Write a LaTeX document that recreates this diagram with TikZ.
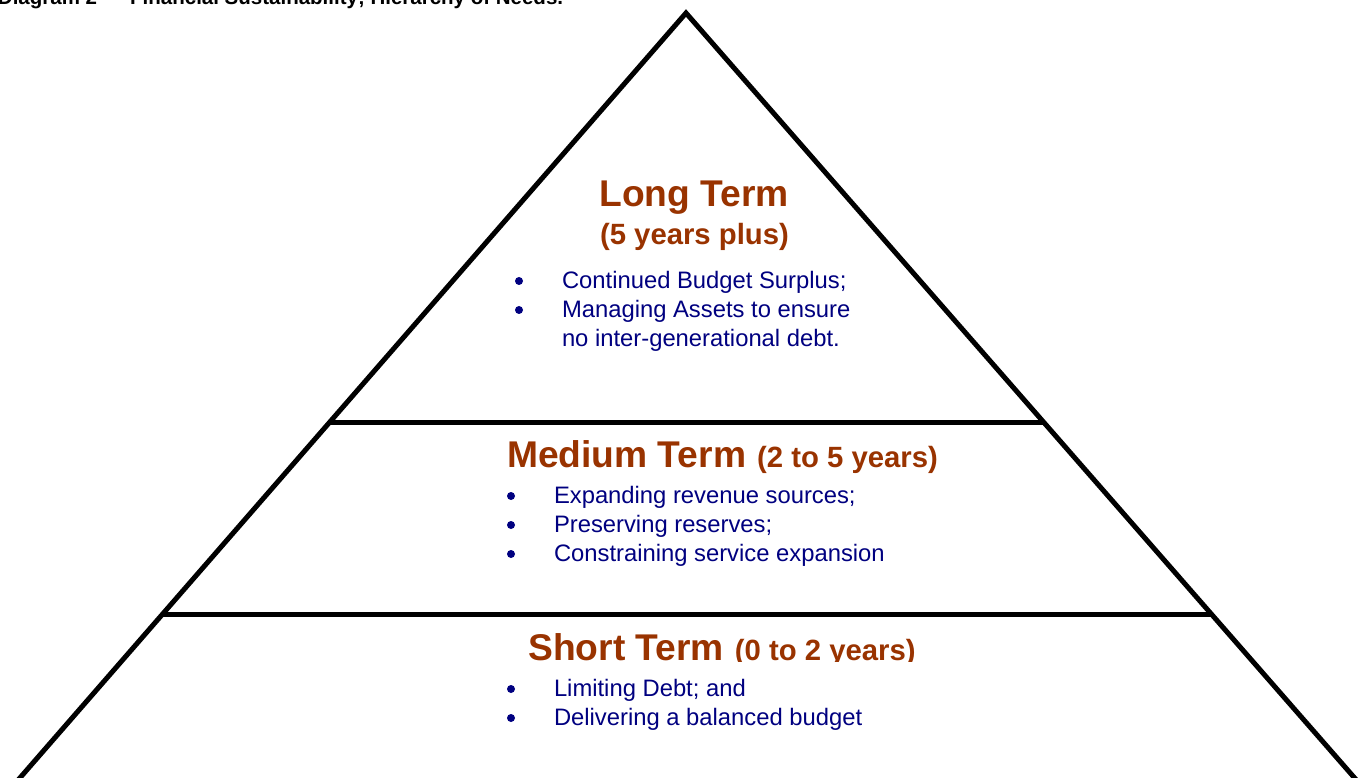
\documentclass[tikz,border=0pt]{standalone}
\usepackage{fontspec}
\setmainfont{Liberation Sans}
\definecolor{rust}{HTML}{993300}
\definecolor{navy}{HTML}{000080}
\begin{document}
\begin{tikzpicture}[x=1pt,y=-1pt,
  edge/.style={line width=5pt,line join=miter,line cap=butt},
  head/.style={inner sep=0pt,outer sep=0pt,anchor=base,text=rust,font=\fontsize{37.2}{40}\selectfont\bfseries},
  sub/.style={inner sep=0pt,outer sep=0pt,anchor=base,text=rust,font=\fontsize{29.3}{32}\selectfont\bfseries},
  item/.style={inner sep=0pt,outer sep=0pt,anchor=base west,text=navy,font=\fontsize{23.8}{29}\selectfont},
  dot/.style={circle,inner sep=0pt,outer sep=0pt,minimum size=8pt,fill=navy},
  title/.style={inner sep=0pt,outer sep=0pt,anchor=base west,text=black,font=\fontsize{20.5}{22}\selectfont\bfseries}]
\useasboundingbox (0,0) rectangle (1369,778);
\fill[white] (0,0) rectangle (1369,778);
\clip (0,0) rectangle (1369,778);
% title (cut by the top edge)
\node[title] (ttl) at (-2,5) {Diagram 2 –\hspace{16pt}Financial Sustainability; Hierarchy of Needs.};
% pyramid
\coordinate (apex) at (686,13);
\coordinate (bl) at (15.5,783);
\coordinate (br) at (1359,783);
\coordinate (ml) at (330,422);
\coordinate (mr) at (1043,422);
\coordinate (sl) at (163,614);
\coordinate (sr) at (1210.5,614);
\draw[edge] (bl) -- (apex) -- (br);
\draw[edge] (ml) -- (mr);
\draw[edge] (sl) -- (sr);
% long term
\node[head] (lt) at (694,207) {Long Term};
\node[sub] (lts) at (694.5,245) {(5 years plus)};
\node[dot] (lb1) at (519,281) {};
\node[item] (l1) at (562,288) {Continued Budget Surplus;};
\node[dot] (lb2) at (519,310) {};
\node[item] (l2) at (562,317) {Managing Assets to ensure};
\node[item] (l3) at (562,346) {no inter-generational debt.};
% medium term
\node[inner sep=0pt,outer sep=0pt,anchor=base,text=rust] (mt) at (722.5,467)
  {{\fontsize{37.2}{40}\selectfont\bfseries Medium Term}\hspace{11pt}{\fontsize{29.3}{32}\selectfont\bfseries (2 to 5 years)}};
\node[dot] (mb1) at (511,496) {};
\node[item] (m1) at (554,503) {Expanding revenue sources;};
\node[dot] (mb2) at (511,525) {};
\node[item] (m2) at (554,532) {Preserving reserves;};
\node[dot] (mb3) at (511,554) {};
\node[item] (m3) at (554,561) {Constraining service expansion};
% short term
\begin{scope}
\clip (0,0) rectangle (1369,661.5);
\node[inner sep=0pt,outer sep=0pt,anchor=base,text=rust] (st) at (722,660)
  {{\fontsize{37.2}{40}\selectfont\bfseries Short Term}\hspace{11pt}{\fontsize{29.3}{32}\selectfont\bfseries (0 to 2 years)}};
\end{scope}
\node[dot] (sb1) at (511,689) {};
\node[item] (s1) at (554,696) {Limiting Debt; and};
\node[dot] (sb2) at (511,718) {};
\node[item] (s2) at (554,725) {Delivering a balanced budget};
\end{tikzpicture}
\end{document}
